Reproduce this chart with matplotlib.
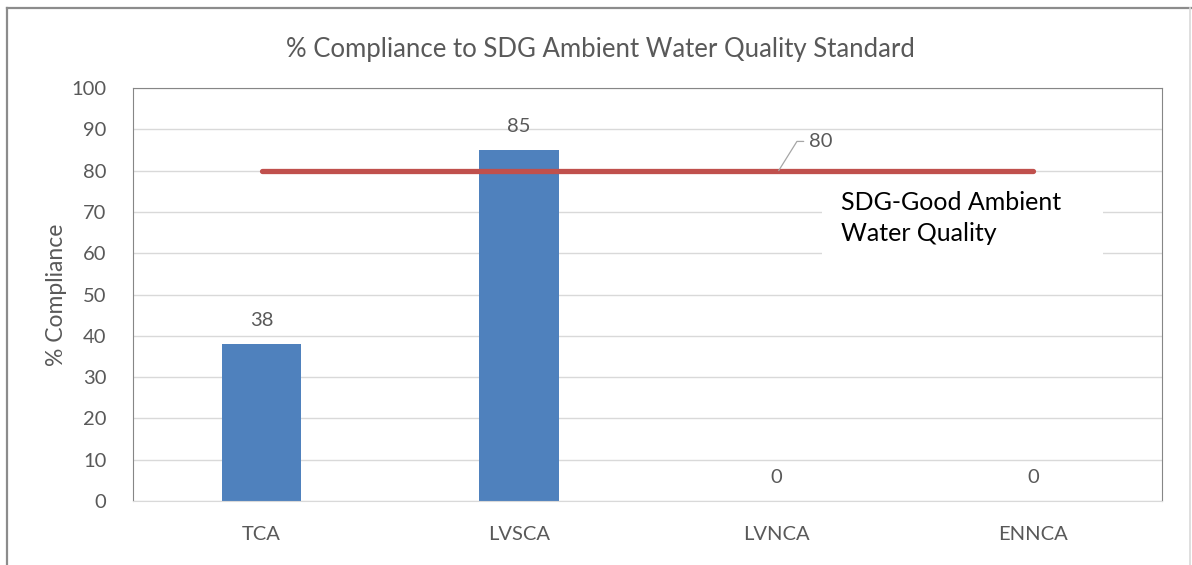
import matplotlib.pyplot as plt
from matplotlib.patches import Rectangle
from matplotlib.lines import Line2D

# chart data
categories = ['TCA', 'LVSCA', 'LVNCA', 'ENNCA']
compliance = [38, 85, 0, 0]
standard = [80, 80, 80, 80]
yticks = [0, 10, 20, 30, 40, 50, 60, 70, 80, 90, 100]

plt.rcParams['font.family'] = ['Lato', 'DejaVu Sans']
txt_grey = '#595959'

fig = plt.figure(figsize=(11.92, 5.65), dpi=100)
ax = fig.add_axes([133 / 1192, 64 / 565, 1029 / 1192, 413 / 565])

x = list(range(len(categories)))
ax.bar(x, compliance, width=0.31, color='#4F81BD', zorder=2)
ax.plot(x, standard, color='#C0504D', lw=3.8, solid_capstyle='round', zorder=3)

for xi, v in zip(x, compliance):
    ax.text(xi, v + 3.6, str(v), ha='center', va='bottom', fontsize=14.5, color=txt_grey)

# label for the standard line with leader
ax.annotate(str(standard[2]), xy=(x[2] + 0.01, standard[2]), xytext=(22, 21),
            textcoords='offset points', ha='left', va='center', fontsize=14.5, color=txt_grey,
            arrowprops=dict(arrowstyle='-', color='#a6a6a6', lw=0.9, shrinkA=2, shrinkB=0,
                            connectionstyle='angle,angleA=0,angleB=58,rad=0'))

# text box for the standard
ax.add_patch(Rectangle((2.18, 57), 1.09, 21, facecolor='white', edgecolor='none', zorder=2.5))
ax.text(2.253, 68.5, 'SDG-Good Ambient\nWater Quality', ha='left', va='center', fontsize=18,
        color='black', linespacing=1.45, zorder=4)

ax.set_xlim(-0.5, 3.5)
ax.set_ylim(0, 100)
ax.set_yticks(yticks)
ax.set_xticks(x)
ax.set_xticklabels(categories)
ax.tick_params(axis='both', length=0, labelsize=14.5, labelcolor=txt_grey)
ax.tick_params(axis='y', pad=19)
ax.tick_params(axis='x', pad=18)
ax.yaxis.grid(True, color='#d9d9d9', lw=1, zorder=0)
ax.set_axisbelow(True)
for side in ['top', 'left', 'right']:
    ax.spines[side].set_color('#868686')
ax.spines['bottom'].set_color('#d9d9d9')

ax.set_ylabel('% Compliance', fontsize=16.5, color=txt_grey, labelpad=3)
fig.text(600 / 1192, 1 - 49 / 565, '% Compliance to SDG Ambient Water Quality Standard',
         ha='center', va='center', fontsize=18.5, color=txt_grey)

# outer chart frame
fig.add_artist(Line2D([7.5 / 1192, 7.5 / 1192], [0, 1 - 8 / 565], transform=fig.transFigure,
                      color='#8c8c8c', lw=1.6))
fig.add_artist(Line2D([7 / 1192, 1191 / 1192], [1 - 8 / 565, 1 - 8 / 565], transform=fig.transFigure,
                      color='#8c8c8c', lw=1.6))
fig.add_artist(Line2D([1190 / 1192, 1190 / 1192], [0, 1 - 8 / 565], transform=fig.transFigure,
                      color='#d9d9d9', lw=1.2))

fig.savefig('out.png', dpi=100)
